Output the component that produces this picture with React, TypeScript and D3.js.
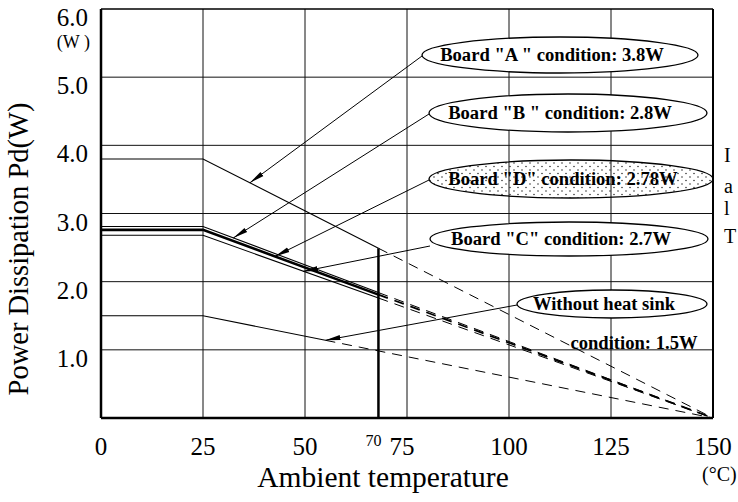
import * as d3 from 'd3';

// Power dissipation derating curves (Pd vs ambient temperature)

const WIDTH = 738;
const HEIGHT = 502;
const PLOT = { left: 101, right: 713, top: 9, bottom: 418 } as const;
const SERIF = "'Liberation Serif', 'Times New Roman', Times, serif";

const TEMP_TICKS = [0, 25, 50, 75, 100, 125, 150];
const TEMP_TICK_LABELS = ['0', '25', '50', '75', '100', '125', '150'];
const POWER_TICKS = [1, 2, 3, 4, 5, 6];
const POWER_TICK_LABELS = ['1.0', '2.0', '3.0', '4.0', '5.0', '6.0'];
const GRID_TEMPS = [25, 50, 75, 100, 125];
const GRID_POWERS = [1, 2, 3, 4, 5];

// the extra vertical marker, labelled "70" in the original
const MARK_TEMP = 68;
const MARK_LABEL = '70';
const MARK_TOP_POWER = 2.49;

// series: A, B, D, C, without heat sink
const FLAT_POWER = [3.8, 2.81, 2.76, 2.68, 1.5];
const KNEE_TEMP = 25;
const SOLID_END_TEMP = [68, 68, 68, 68, 55];
const SOLID_END_POWER = [2.49, 1.84, 1.81, 1.76, 1.14];
const ZERO_TEMP = 150;
const THICK_SERIES = [false, false, true, false, false];

const CALLOUT_TEXT = [
  'Board "A " condition: 3.8W',
  'Board "B " condition: 2.8W',
  'Board "D" condition: 2.78W',
  'Board "C" condition: 2.7W',
  'Without heat sink',
];
const ARROW_TEMP = [36.5, 32.4, 42.6, 49.5, 55];
const ARROW_POWER = [3.45, 2.64, 2.37, 2.15, 1.14];

// callout ellipses in pixels: cx, cy, rx, ry
const CALLOUT_BOX = [
  [560, 55, 138, 18],
  [568, 113, 139, 19],
  [571, 179, 142, 19],
  [569, 239, 139, 17],
  [612, 304, 95, 14],
];
const CALLOUT_DOTTED = [false, false, true, false, false];

// letters of the cut-off caption on the right edge
const EDGE_LETTERS = ['I', 'a', 'l', 'T'];
const EDGE_BASELINES = [162, 193, 215, 243];

export default function App() {
  const x = d3.scaleLinear().domain([0, 150]).range([PLOT.left, PLOT.right]);
  const y = d3.scaleLinear().domain([0, 6]).range([PLOT.bottom, PLOT.top]);
  const line = d3
    .line<[number, number]>()
    .x((d) => x(d[0]))
    .y((d) => y(d[1]));

  const solid = FLAT_POWER.map((p, i) =>
    line([
      [0, p],
      [KNEE_TEMP, p],
      [SOLID_END_TEMP[i], SOLID_END_POWER[i]],
    ])
  );
  const dashed = FLAT_POWER.map((_, i) =>
    line([
      [SOLID_END_TEMP[i], SOLID_END_POWER[i]],
      [ZERO_TEMP, 0],
    ])
  );

  return (
    <svg
      width={WIDTH}
      height={HEIGHT}
      viewBox={`0 0 ${WIDTH} ${HEIGHT}`}
      style={{ position: 'absolute', left: 0, top: 0, display: 'block', background: '#fff' }}
    >
      <defs>
        <marker
          id="arrow"
          markerUnits="userSpaceOnUse"
          markerWidth={18}
          markerHeight={8}
          refX={15}
          refY={3}
          orient="auto"
          viewBox="0 0 18 6"
        >
          <path d="M0,0.5 L15,3 L0,5.5 Z" fill="#000" />
        </marker>
        <pattern id="dots" width={8} height={7} patternUnits="userSpaceOnUse">
          <circle cx={2} cy={2} r={0.75} fill="#222" />
          <circle cx={6} cy={5.5} r={0.75} fill="#222" />
        </pattern>
      </defs>

      {/* grid */}
      <g stroke="#111" strokeWidth={1}>
        {GRID_TEMPS.map((t) => (
          <line key={`gx${t}`} x1={x(t)} x2={x(t)} y1={y(6)} y2={y(0)} />
        ))}
        {GRID_POWERS.map((p) => (
          <line key={`gy${p}`} x1={x(0)} x2={x(150)} y1={y(p)} y2={y(p)} />
        ))}
      </g>

      {/* marker line at the knee */}
      <line
        x1={x(MARK_TEMP)}
        x2={x(MARK_TEMP)}
        y1={y(MARK_TOP_POWER)}
        y2={y(0)}
        stroke="#000"
        strokeWidth={2.5}
      />

      {/* frame */}
      <line x1={x(0)} x2={x(150)} y1={y(6)} y2={y(6)} stroke="#000" strokeWidth={1.5} />
      <line x1={x(0)} x2={x(0)} y1={y(6)} y2={y(0)} stroke="#000" strokeWidth={2.5} />
      <line x1={x(150)} x2={x(150)} y1={y(6)} y2={y(0)} stroke="#000" strokeWidth={2} />
      <line x1={x(0)} x2={x(150)} y1={y(0)} y2={y(0)} stroke="#000" strokeWidth={2.5} />

      {/* derating curves */}
      {solid.map((d, i) => (
        <path
          key={`s${i}`}
          d={d ?? ''}
          fill="none"
          stroke="#000"
          strokeWidth={THICK_SERIES[i] ? 2.6 : 1.1}
        />
      ))}
      {dashed.map((d, i) => (
        <path
          key={`d${i}`}
          d={d ?? ''}
          fill="none"
          stroke="#000"
          strokeWidth={THICK_SERIES[i] ? 1.8 : 1}
          strokeDasharray="10 7"
        />
      ))}

      {/* callouts */}
      {CALLOUT_TEXT.map((txt, i) => {
        const [cx, cy, rx, ry] = CALLOUT_BOX[i];
        return (
          <g key={`c${i}`}>
            <line
              x1={cx - rx}
              y1={cy + (i === 3 ? 7 : 1)}
              x2={x(ARROW_TEMP[i])}
              y2={y(ARROW_POWER[i])}
              stroke="#000"
              strokeWidth={1}
              markerEnd="url(#arrow)"
            />
            <ellipse
              cx={cx}
              cy={cy}
              rx={rx}
              ry={ry}
              fill={CALLOUT_DOTTED[i] ? 'url(#dots)' : '#fff'}
              stroke="#000"
              strokeWidth={1.3}
            />
            <text
              x={cx - 8}
              y={cy + 6}
              textAnchor="middle"
              fontFamily={SERIF}
              fontWeight="bold"
              fontSize={18.6}
              fill="#000"
            >
              {txt}
            </text>
          </g>
        );
      })}
      <text x={634} y={349} textAnchor="middle" fontFamily={SERIF} fontWeight="bold" fontSize={18.6} fill="#000">
        condition: 1.5W
      </text>

      {/* y tick labels */}
      {POWER_TICKS.map((p, i) => (
        <text
          key={`yt${p}`}
          x={88}
          y={y(p) + 17}
          textAnchor="end"
          fontFamily={SERIF}
          fontSize={25}
          fill="#000"
        >
          {POWER_TICK_LABELS[i]}
        </text>
      ))}
      <text x={90} y={48} textAnchor="end" fontFamily={SERIF} fontSize={18} fill="#000">
        (W )
      </text>

      {/* x tick labels */}
      {TEMP_TICKS.map((t, i) => (
        <text
          key={`xt${t}`}
          x={x(t) + (t === 75 ? -5 : 0)}
          y={455}
          textAnchor="middle"
          fontFamily={SERIF}
          fontSize={25}
          fill="#000"
        >
          {TEMP_TICK_LABELS[i]}
        </text>
      ))}
      <text x={x(MARK_TEMP) - 5} y={446} textAnchor="middle" fontFamily={SERIF} fontSize={16} fill="#000">
        {MARK_LABEL}
      </text>

      {/* axis titles */}
      <text
        transform={`translate(28, 249) rotate(-90)`}
        textAnchor="middle"
        fontFamily={SERIF}
        fontSize={28.5}
        fill="#000"
      >
        Power Dissipation Pd(W)
      </text>
      <text x={383} y={487} textAnchor="middle" fontFamily={SERIF} fontSize={29.5} fill="#000">
        Ambient temperature
      </text>
      <text x={702} y={481} fontFamily={SERIF} fontSize={20} fill="#000">
        (°C)
      </text>

      {/* cut-off caption letters on the right edge */}
      {EDGE_LETTERS.map((ch, i) => (
        <text key={`e${i}`} x={724} y={EDGE_BASELINES[i]} fontFamily={SERIF} fontSize={20} fill="#000">
          {ch}
        </text>
      ))}
    </svg>
  );
}
